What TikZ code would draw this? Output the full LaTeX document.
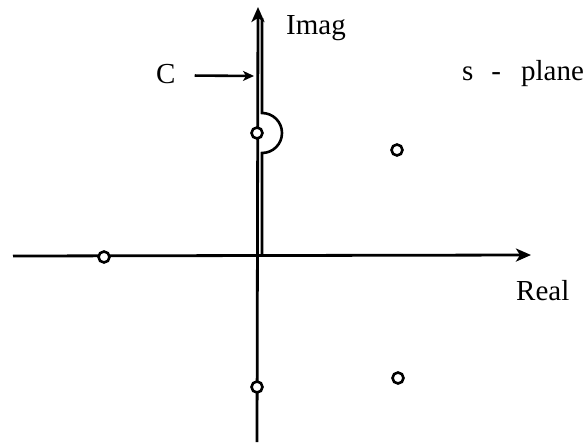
\documentclass[tikz,border=0pt]{standalone}
\usepackage{fontspec}
\setmainfont{Liberation Serif}
\usetikzlibrary{arrows.meta}
\begin{document}
\begin{tikzpicture}[x=1pt,y=-1pt,
  axis/.style={line width=2.8pt,-{Stealth[length=15pt,width=13pt,inset=4pt]}},
  contour/.style={line width=2.6pt},
  pointer/.style={line width=2.6pt,-{Stealth[length=11pt,width=10pt,inset=3pt]}},
  pole/.style={circle,draw,line width=2.6pt,fill=white,minimum size=11pt,inner sep=0pt},
  lbl/.style={font=\fontsize{29}{33}\selectfont,inner sep=0pt}]
\useasboundingbox (0,0) rectangle (586,442);
% contour C
\coordinate (c0) at (262,256);
\coordinate (c1) at (262,153);
\coordinate (c3) at (262,18);
\draw[contour] (c0) -- (c1) arc[start angle=-90,end angle=90,radius=20pt] -- (c3);
% axes
\coordinate (xl) at (13,256);
\coordinate (xr) at (531,255);
\coordinate (yb) at (257,442);
\coordinate (yt) at (258,7);
\draw[axis] (xl) -- (xr);
\draw[axis] (yb) -- (yt);
% poles
\node[pole] (p1) at (104,257) {};
\node[pole] (p2) at (257,133) {};
\node[pole] (p3) at (257,387) {};
\node[pole] (p4) at (397,150) {};
\node[pole] (p5) at (398,378) {};
% labels
\node[lbl,anchor=base west] (imag) at (286,34) {Imag};
\node[lbl,anchor=base west] (real) at (516,300) {Real};
\node[lbl,anchor=base west] (splane) at (462,80) {s\hspace{18pt}-\hspace{20pt}plane};
\node[lbl,anchor=base west] (C) at (156,83) {C};
\coordinate (ct) at (254,76);
\draw[pointer] ([xshift=19pt,yshift=-2pt]C.east) -- (ct);
\end{tikzpicture}
\end{document}
